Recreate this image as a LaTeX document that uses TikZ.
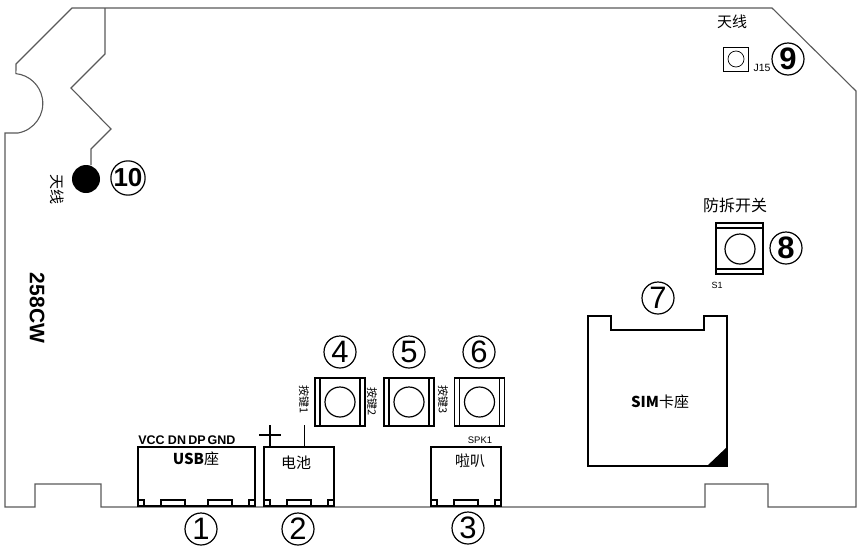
\documentclass[tikz,border=0pt]{standalone}
\usepackage{fontspec}
\setmainfont{Liberation Sans}
\newfontfamily\cjk{Noto Sans CJK SC}
\newcommand{\fs}[1]{\fontsize{#1}{#1}\selectfont}
\begin{document}
\begin{tikzpicture}
  [x=1pt,y=-1pt,
   board/.style={draw=black!65,line width=1.1pt},
   part/.style={draw,line width=1.8pt},
   thinpart/.style={draw,line width=1.2pt},
   num/.style={circle,draw,line width=1.2pt,minimum size=32pt,inner sep=0pt,font=\fs{31}},
   lab/.style={inner sep=0pt,font=\cjk\fs{14}},
   keybox/.style={part,minimum width=50pt,minimum height=48pt,inner sep=0pt},
   dome/.style={circle,draw,line width=1.2pt,minimum size=30pt,inner sep=0pt}]
  \useasboundingbox (0,0) rectangle (861,552);

  % board outline
  \draw[board] (72,8) -- (772,8) -- (856,91) -- (856,507) -- (768,507) -- (768,484)
     -- (705,484) -- (705,507) -- (101,507) -- (101,484) -- (35,484) -- (35,507)
     -- (5,507) -- (5,133) -- (18,133) arc (80:-84:30) -- (16,64) -- cycle;
  \node[circle,fill=black,minimum size=28pt,inner sep=0pt] (ant) at (86,179) {};
  \coordinate (anttop) at (105,8);
  \draw[board] (anttop) -- (105,54) -- (71,88) -- (111,129) -- (91,149) -- (91,165);

  % bottom connectors
  \node[part,minimum width=117pt,minimum height=59pt,inner sep=0pt] (usb) at (196.5,476.5) {};
  \node[part,minimum width=70pt,minimum height=59pt,inner sep=0pt] (batt) at (299,476.5) {};
  \node[part,minimum width=70pt,minimum height=59pt,inner sep=0pt] (spk) at (466,476.5) {};
  \foreach \l/\r in {138/255,264/334,431/501} {
    \draw[part,line width=1.1pt] (\l,506) rectangle (\l+6,500);
    \draw[part,line width=1.1pt] (\r-6,506) rectangle (\r,500);
  }
  \foreach \a in {161,208,287,454}
    \draw[part,line width=1.1pt] (\a,506) rectangle (\a+24,500);
  \coordinate (plustop) at (270,425);
  \coordinate (plusbot) at (270,447);
  \coordinate (plusl) at (259,435);
  \coordinate (plusr) at (281,435);
  \coordinate (minustop) at (304.5,425);
  \coordinate (minusbot) at (304.5,447);
  \draw[thinpart] (plustop) -- (plusbot);
  \draw[thinpart] (plusl) -- (plusr);
  \draw[thinpart] (minustop) -- (minusbot);

  \node[lab,font=\bfseries\fs{12.5}] (vcc) at (151.5,440) {VCC};
  \node[lab,font=\bfseries\fs{12.5}] (dn) at (177,440) {DN};
  \node[lab,font=\bfseries\fs{12.5}] (dp) at (197,440) {DP};
  \node[lab,font=\bfseries\fs{12.5}] (gnd) at (221.5,440) {GND};
  \node[lab] (usbtxt) at (196,459) {\bfseries\fs{15}USB\cjk\mdseries\fs{15}座};
  \node[lab,font=\cjk\fs{15}] (batttxt) at (296,463) {电池};
  \node[lab,font=\fs{9.5}] (spkname) at (480,440) {SPK1};
  \node[lab,font=\cjk\fs{15}] (spktxt) at (470,461) {啦叭};

  % three keys
  \foreach \k/\x in {key1/340,key2/409,key3/479.5} {
    \node[keybox] (\k) at (\x,402) {};
    \node[dome] (\k d) at (\k) {};
    \draw[line width=1.1pt] (\x-20,378) -- (\x-20,426);
    \draw[line width=1.1pt] (\x+20,378) -- (\x+20,426);
  }
  \node[lab,rotate=-90,font=\cjk\fs{11}] (k1txt) at (304,400) {按键1};
  \node[lab,rotate=-90,font=\cjk\fs{11}] (k2txt) at (372,402) {按键2};
  \node[lab,rotate=-90,font=\cjk\fs{11}] (k3txt) at (443,400) {按键3};

  % sim holder
  \draw[part] (588,316) -- (611,316) -- (611,330) -- (704,330) -- (704,316)
     -- (727,316) -- (727,466) -- (588,466) -- cycle;
  \fill (707,466) -- (727,466) -- (727,447) -- cycle;
  \node[lab] (simtxt) at (660,402) {\bfseries\fs{15}SIM\cjk\mdseries\fs{15}卡座};

  % tamper switch
  \node[part,minimum width=47pt,minimum height=51pt,inner sep=0pt] (sw) at (739.5,248.5) {};
  \node[dome] (swd) at (740,249) {};
  \draw[line width=1.1pt] (716,228) -- (763,228);
  \draw[line width=1.1pt] (716,269) -- (763,269);
  \node[lab,font=\cjk\fs{16}] (swtxt) at (735,205) {防拆开关};
  \node[lab,font=\fs{9}] (swname) at (717,285) {S1};

  % antenna pad
  \node[draw,line width=.9pt,minimum width=25pt,minimum height=24pt,inner sep=0pt] (pad) at (735.5,59) {};
  \node[circle,draw,line width=.7pt,minimum size=16pt,inner sep=0pt] (padd) at (736,59) {};
  \node[lab,font=\fs{10.5}] (padname) at (762,68) {J15};
  \node[lab,font=\cjk\fs{15}] (padtxt) at (732,22) {天线};
  \node[lab,rotate=-90,font=\cjk\fs{15}] (anttxt) at (57,189) {天线};
  \node[lab,rotate=-90,font=\bfseries\fs{21}] (model) at (37,308) {258CW};

  % numbers
  \node[num] (n1) at (201,529) {1};
  \node[num] (n2) at (298,529) {2};
  \node[num] (n3) at (468,528) {3};
  \node[num] (n4) at (340,352) {4};
  \node[num] (n5) at (409,352) {5};
  \node[num] (n6) at (479,352) {6};
  \node[num] (n7) at (658,298) {7};
  \node[num,font=\bfseries\fs{31}] (n8) at (786,248) {8};
  \node[num,font=\bfseries\fs{31}] (n9) at (788,59) {9};
  \node[num,font=\bfseries\fs{26}] (n10) at (128,178) {10};
\end{tikzpicture}
\end{document}
